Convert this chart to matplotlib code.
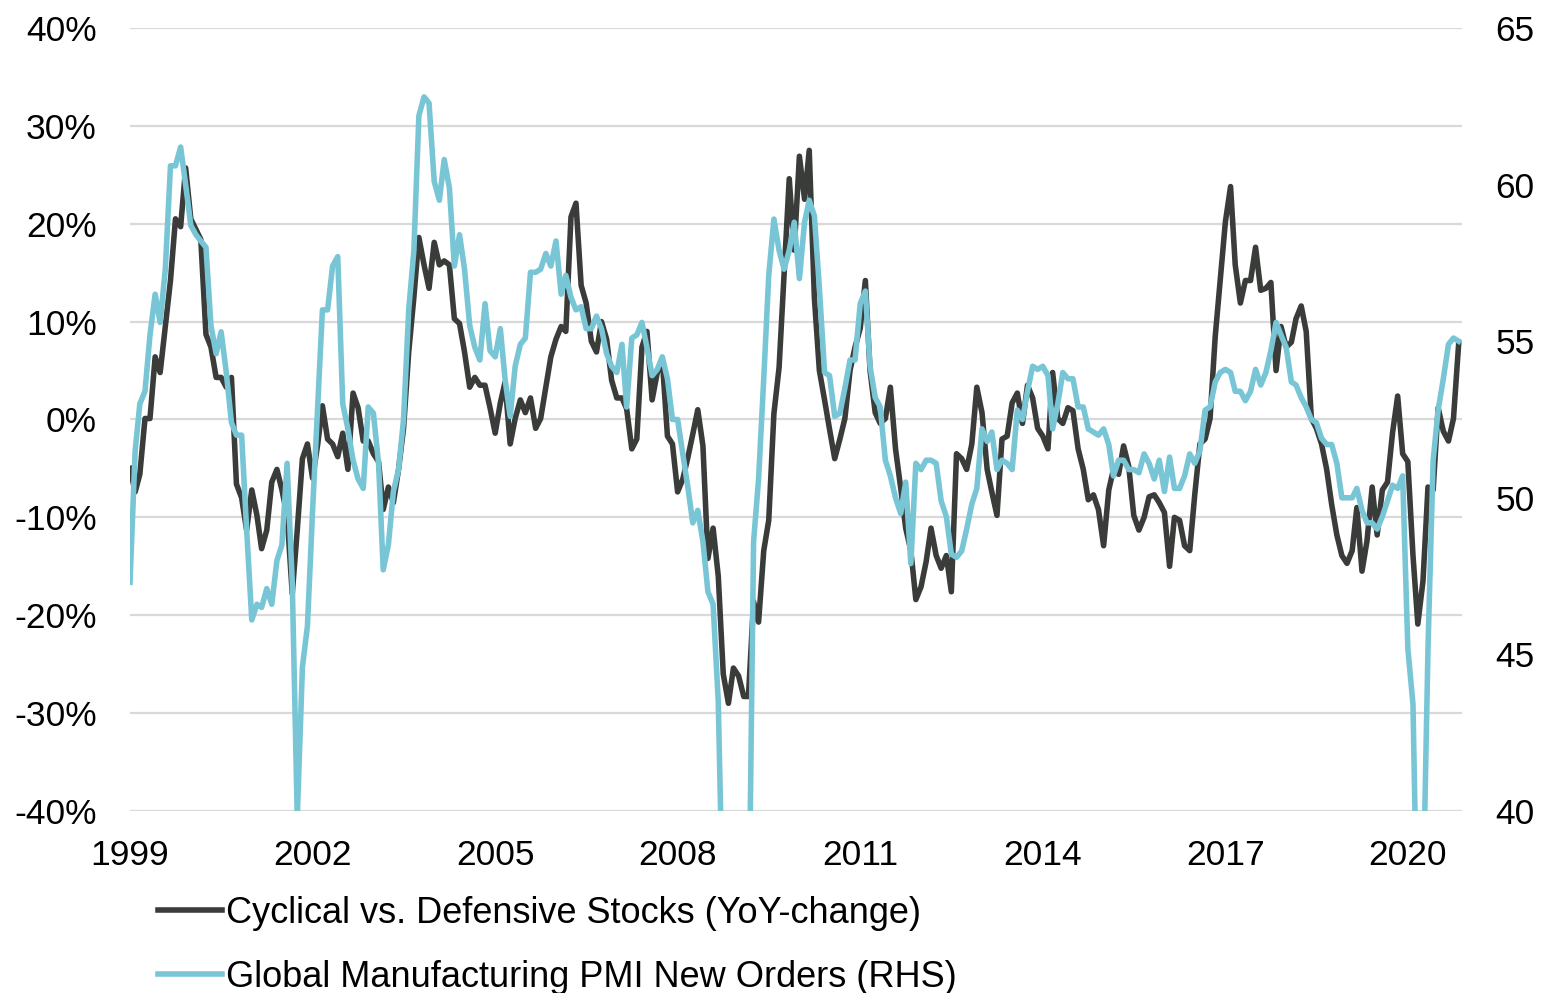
import pandas as pd
import matplotlib
matplotlib.use("Agg")
import matplotlib.pyplot as plt
from matplotlib.ticker import FuncFormatter

plt.rcParams["font.family"] = ["Liberation Sans", "DejaVu Sans"]

# monthly data, Jan 1999 - Nov 2020
start_month = "1999-01"

# Cyclical vs. Defensive Stocks, YoY-change in %
cyclical_vs_defensive = [
    -5, -7.4, -5.6, 0.1, 0.1, 6.4, 4.8, 9.5, 14.2, 20.5, 19.7, 25.7,
    20.5, 19.4, 18.4, 8.7, 7.4, 4.3, 4.3, 3.3, 4.3, -6.6, -8, -11.3,
    -7.2, -9.8, -13.2, -11.3, -6.4, -5.1, -7.2, -9.8, -17.8, -11.3, -4, -2.5,
    -6, -2.5, 1.4, -2, -2.5, -3.8, -1.4, -5.1, 2.7, 1.2, -2.2, -2.2,
    -3.5, -4.3, -9.2, -6.9, -8.5, -5.1, -0.9, 6.9, 12.5, 18.6, 15.8, 13.4,
    18.1, 15.8, 16.2, 15.8, 10.3, 9.8, 6.9, 3.3, 4.3, 3.5, 3.5, 1.2,
    -1.4, 1.7, 3.8, -2.5, 0.1, 2, 0.7, 2.2, -0.9, 0.1, 3.3, 6.4,
    8.2, 9.5, 9, 20.7, 22.1, 13.7, 11.9, 8, 6.9, 10, 8.2, 4,
    2.2, 2.2, 1.1, -3, -2, 7.4, 9, 2, 4.8, 6.1, -1.7, -2.5,
    -7.4, -6.1, -4, -1.5, 1, -2.7, -14.2, -11.1, -16, -26, -29, -25.4,
    -26.2, -28.3, -28.3, -18.6, -20.7, -13.4, -10.3, 0.6, 5.3, 14.7, 24.6, 17.3,
    26.9, 22.5, 27.5, 12.4, 5, 2, -1, -4, -2, 0.1, 5, 7.4,
    9.3, 14.2, 5, 0.7, -0.4, 0.1, 3.3, -3, -7, -11.1, -13.4, -18.4,
    -17.1, -14.5, -11.1, -13.9, -15.2, -13.9, -17.6, -3.5, -4, -5.1, -2.5, 3.3,
    0.7, -5.1, -7.4, -9.8, -2, -1.7, 1.7, 2.7, -0.4, 3.5, 2.2, -0.9,
    -1.7, -3, 4.8, 0.1, -0.4, 1.2, 0.9, -3, -5.1, -8.2, -7.7, -9.2,
    -12.9, -7.2, -5.1, -5.6, -2.7, -4.8, -9.8, -11.3, -10, -7.9, -7.7, -8.5,
    -9.5, -15, -10, -10.3, -12.9, -13.4, -7.7, -2.5, -2, 0.1, 8.5, 14.2,
    20.2, 23.8, 15.8, 11.9, 14.2, 14.2, 17.6, 13.2, 13.4, 14, 5, 9.5,
    7.4, 7.9, 10.3, 11.6, 9, 0.1, -0.9, -2.5, -5.1, -8.7, -11.8, -13.9,
    -14.7, -13.4, -9, -15.5, -12.4, -6.9, -11.8, -7.2, -6.4, -1.4, 2.4, -3.5,
    -4.3, -13.9, -20.9, -16.5, -6.9, -7.2, 1.2, -1.2, -2.2, 0.1, 7.7,
]

# Global Manufacturing PMI New Orders (RHS)
pmi_new_orders = [
    47.3, 51.5, 53, 53.4, 55.2, 56.5, 55.6, 57.3, 60.6, 60.6, 61.2, 60,
    58.7, 58.4, 58.2, 58, 55.5, 54.6, 55.3, 54, 52.4, 52, 52, 49,
    46.1, 46.6, 46.5, 47.1, 46.6, 48, 48.5, 51.1, 47.3, 39.8, 44.6, 45.9,
    49.6, 53, 56, 56, 57.4, 57.7, 53, 52.2, 51.2, 50.6, 50.3, 52.9,
    52.7, 51.1, 47.7, 48.5, 50.2, 50.9, 52.5, 56, 57.9, 62.2, 62.8, 62.6,
    60.1, 59.5, 60.8, 59.9, 57.4, 58.4, 57.3, 55.5, 54.8, 54.4, 56.2, 54.7,
    54.5, 55.4, 53.8, 52.6, 54.2, 54.9, 55.1, 57.2, 57.2, 57.3, 57.8, 57.4,
    58.2, 56.5, 57.1, 56.4, 56, 56.1, 55.4, 55.4, 55.8, 55.4, 54.6, 54.2,
    54, 54.9, 52.9, 55.1, 55.2, 55.6, 54.8, 53.9, 54.1, 54.5, 53.8, 52.5,
    52.5, 51.4, 50.4, 49.2, 49.6, 48.6, 47, 46.6, 43.5, 36, 33, 32,
    33, 34.5, 35, 48.6, 50.6, 53.8, 57.1, 58.9, 57.9, 57.3, 57.9, 58.8,
    57, 58.8, 59.5, 59, 56.7, 54, 53.9, 52.6, 52.7, 53.5, 54.4, 54.4,
    56.2, 56.6, 54.2, 53.2, 52.9, 51.2, 50.7, 50, 49.5, 50.5, 47.9, 51.1,
    50.9, 51.2, 51.2, 51.1, 49.9, 49.4, 48.2, 48.1, 48.3, 49, 49.8, 50.3,
    52.2, 51.8, 52.1, 50.9, 51.2, 51.1, 50.9, 52.8, 52.5, 53.4, 54.2, 54.1,
    54.2, 53.9, 52.2, 53, 54, 53.8, 53.8, 52.9, 52.9, 52.2, 52.1, 52,
    52.2, 51.7, 50.7, 51.2, 51.2, 50.9, 50.9, 50.8, 51.4, 51.1, 50.6, 51.2,
    50.2, 51.3, 50.3, 50.3, 50.7, 51.4, 51.1, 51.5, 52.8, 52.9, 53.7, 54,
    54.1, 54, 53.4, 53.4, 53.1, 53.4, 54.1, 53.6, 54, 54.7, 55.6, 55.2,
    54.8, 53.7, 53.6, 53.2, 52.9, 52.5, 52.4, 51.9, 51.7, 51.7, 51.1, 50,
    50, 50, 50.3, 49.6, 49.2, 49.2, 49, 49.4, 49.9, 50.4, 50.3, 50.7,
    45.2, 43.4, 35, 37, 45.2, 51.2, 52.8, 53.8, 54.9, 55.1, 55,
]

tick_years = [1999, 2002, 2005, 2008, 2011, 2014, 2017, 2020]
labels = [
    "Cyclical vs. Defensive Stocks (YoY-change)",
    "Global Manufacturing PMI New Orders (RHS)",
]

dates = pd.date_range(start_month, periods=len(cyclical_vs_defensive), freq="MS")

fig = plt.figure(figsize=(15.42, 9.93), dpi=100)
ax = fig.add_axes([0.0843, 0.1833, 0.8638, 0.7885])
ax2 = ax.twinx()

line1, = ax.plot(dates, cyclical_vs_defensive, color="#3a3c3a", lw=4.0, label=labels[0])
line2, = ax2.plot(dates, pmi_new_orders, color="#78c5d6", lw=4.0, label=labels[1])

# left axis (%)
ax.set_ylim(-40, 40)
ax.set_yticks(range(-40, 41, 10))
ax.yaxis.set_major_formatter(FuncFormatter(lambda v, p: f"{v:.0f}%"))
ax.grid(axis="y", color="#d9d9d9", lw=1.6)
ax.set_axisbelow(True)

# right axis (PMI)
ax2.set_ylim(40, 65)
ax2.set_yticks(range(40, 66, 5))

ax.set_xlim(dates[0], dates[-1] + pd.Timedelta(days=20))
ax.set_xticks(pd.to_datetime([f"{y}-01-01" for y in tick_years]))
ax.set_xticklabels([str(y) for y in tick_years])

for a in (ax, ax2):
    for s in a.spines.values():
        s.set_visible(False)
ax.tick_params(axis="y", length=0, labelsize=25.5, pad=24)
ax.tick_params(axis="x", length=0, labelsize=25.5, pad=20)
ax2.tick_params(axis="y", length=0, labelsize=25.5, pad=24)

fig.legend(
    handles=[line1, line2],
    loc="upper left",
    bbox_to_anchor=(0.1025, 0.098),
    frameon=False,
    fontsize=26,
    handlelength=1.77,
    handletextpad=0.11,
    labelspacing=0.8,
    borderpad=0,
    borderaxespad=0,
)

fig.savefig("out.png", dpi=100)
